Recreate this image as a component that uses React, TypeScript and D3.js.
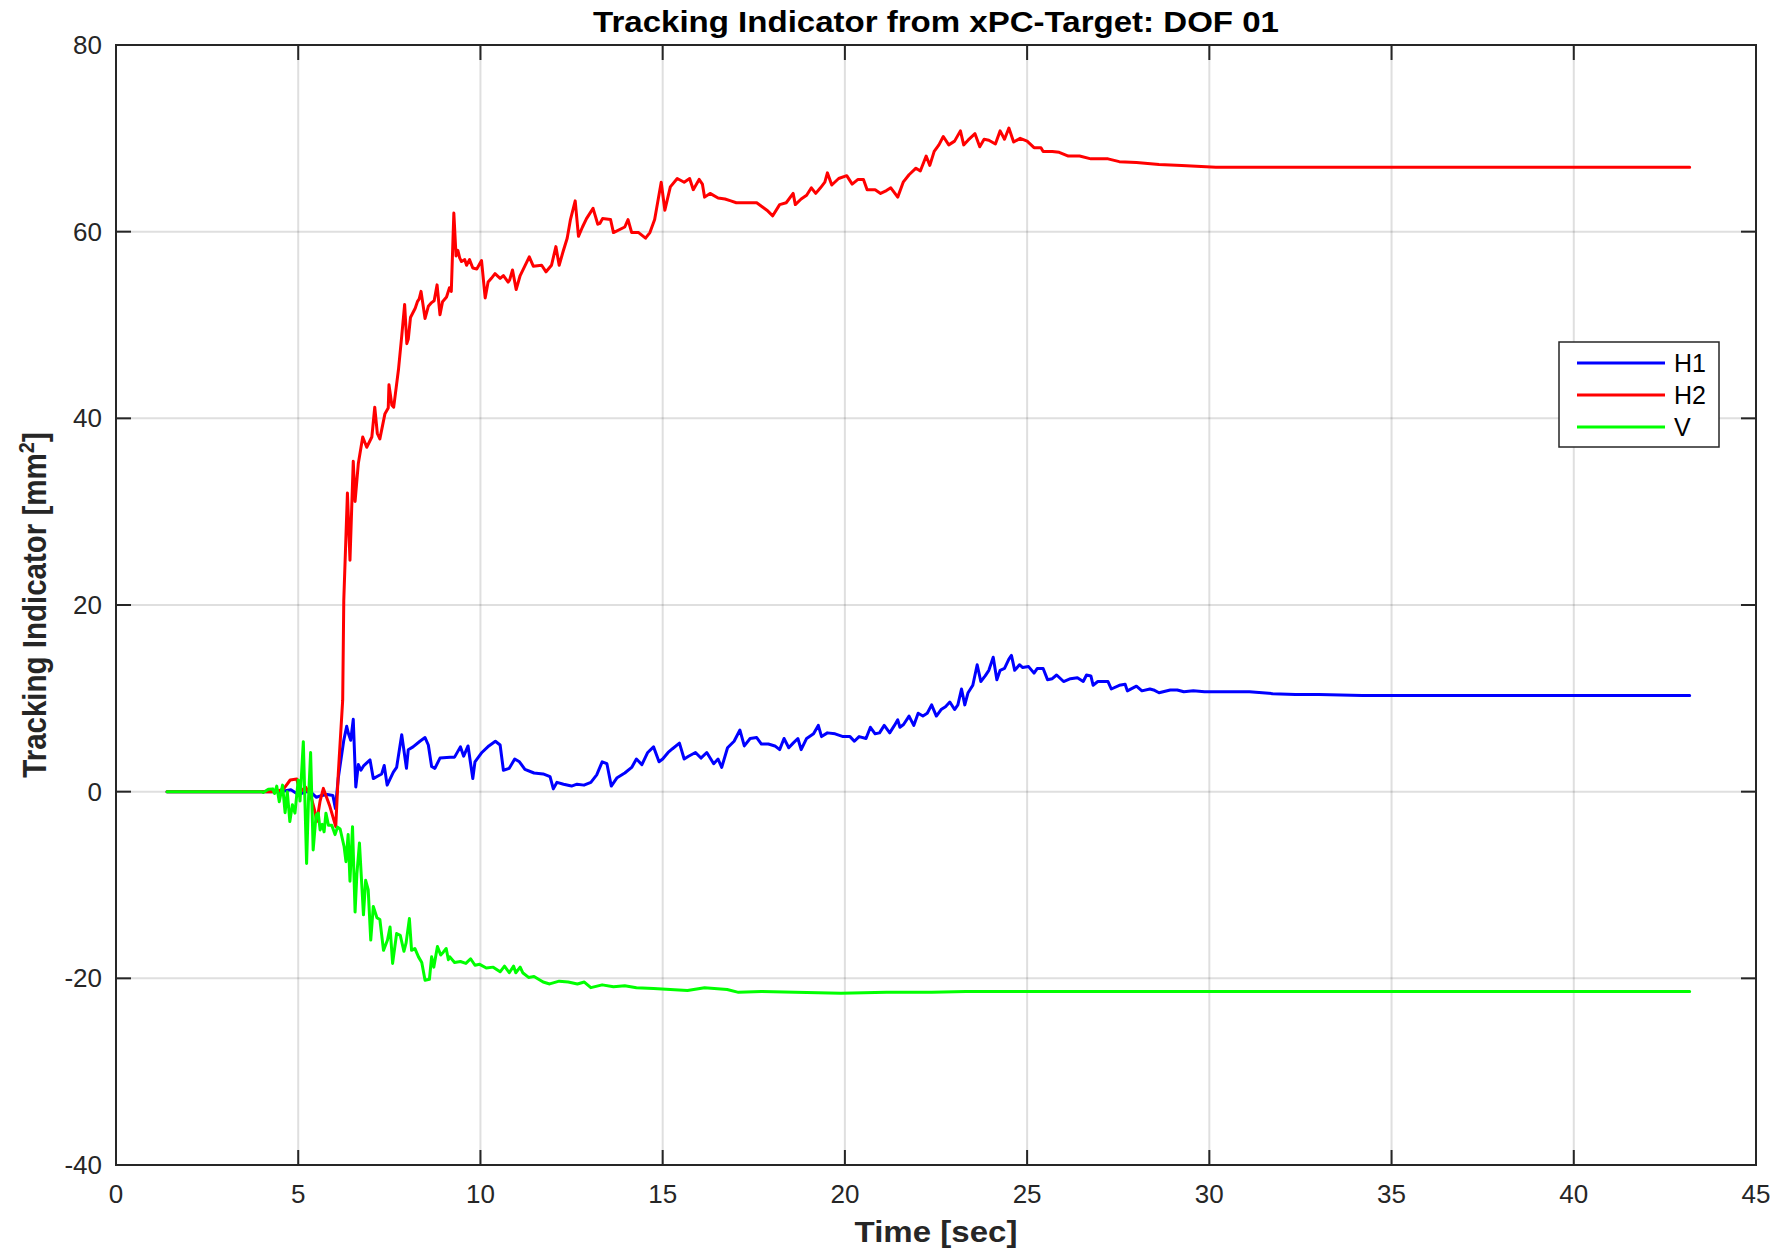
import React from 'react';
import * as d3 from 'd3';

const TITLE = 'Tracking Indicator from xPC-Target: DOF 01';
const X_LABEL = 'Time [sec]';
const X_TICKS = [0, 5, 10, 15, 20, 25, 30, 35, 40, 45];
const Y_TICKS = [-40, -20, 0, 20, 40, 60, 80];
const SERIES_NAMES = ['H1', 'H2', 'V'];
const SERIES_COLORS = ['#0000ff', '#ff0000', '#00ff00'];

const H1: [number, number][] = [
  [1.4, 0], [4.5, 0], [4.8, 0.2], [5.0, -0.3], [5.3, 0.1], [5.5, -0.6], [5.65, -0.4], [5.8, -0.3], [5.95, -0.4], [6.02, -1.8],
  [6.1, 1.5], [6.25, 5.5], [6.33, 7.0], [6.38, 6.2], [6.44, 5.5], [6.51, 7.75], [6.58, 0.5], [6.65, 2.9], [6.72, 2.3], [6.8, 2.8],
  [6.97, 3.4], [7.06, 1.4], [7.2, 1.7], [7.29, 1.9], [7.36, 2.8], [7.44, 0.7], [7.61, 2.1], [7.7, 2.6], [7.84, 6.1], [7.97, 2.5],
  [8.02, 4.5], [8.15, 4.8], [8.34, 5.4], [8.48, 5.8], [8.57, 5.0], [8.66, 2.7], [8.75, 2.5], [8.89, 3.6], [9.17, 3.7],
  [9.29, 3.7], [9.45, 4.8], [9.54, 3.8], [9.66, 4.9], [9.79, 1.4], [9.85, 3.2], [10.04, 4.2], [10.23, 4.9], [10.41, 5.4], [10.54, 5.0],
  [10.63, 2.3], [10.79, 2.5], [10.94, 3.5], [11.07, 3.2], [11.22, 2.4], [11.47, 2.0], [11.72, 1.9], [11.91, 1.6], [12.0, 0.3], [12.1, 1.0],
  [12.28, 0.8], [12.5, 0.6], [12.65, 0.8], [12.84, 0.7], [13.03, 1.0], [13.19, 1.8], [13.34, 3.2], [13.47, 3.0], [13.59, 0.6], [13.75, 1.5],
  [13.96, 2.0], [14.15, 2.6], [14.28, 3.5], [14.43, 2.9], [14.59, 4.2], [14.75, 4.8], [14.9, 3.2], [15.0, 3.5], [15.15, 4.2], [15.27, 4.6],
  [15.46, 5.2], [15.59, 3.5], [15.71, 3.8], [15.9, 4.2], [16.05, 3.6], [16.21, 4.2], [16.4, 3.0], [16.52, 3.5], [16.62, 2.6], [16.78, 4.7],
  [16.96, 5.4], [17.12, 6.6], [17.24, 4.9], [17.4, 5.7], [17.58, 5.8], [17.71, 5.1], [17.9, 5.1], [18.08, 4.9], [18.21, 4.5], [18.33, 5.7],
  [18.46, 4.7], [18.58, 5.2], [18.71, 5.7], [18.8, 4.5], [18.95, 5.7], [19.14, 6.2], [19.27, 7.1], [19.36, 5.9], [19.52, 6.3], [19.73, 6.2],
  [19.95, 5.9], [20.14, 5.9], [20.26, 5.4], [20.39, 5.9], [20.58, 5.7], [20.7, 6.9], [20.83, 6.2], [20.95, 6.3], [21.08, 7.1], [21.23, 6.3],
  [21.36, 7.1], [21.45, 7.7], [21.51, 6.9], [21.61, 7.2], [21.76, 8.1], [21.89, 7.1], [22.01, 8.4], [22.14, 8.1], [22.26, 8.4], [22.38, 9.3],
  [22.51, 8.1], [22.64, 8.8], [22.76, 9.1], [22.88, 9.6], [23.01, 8.8], [23.1, 9.3], [23.2, 11.0], [23.29, 9.3], [23.38, 10.6], [23.51, 11.4],
  [23.63, 13.6], [23.73, 11.8], [23.85, 12.4], [23.95, 13.0], [24.07, 14.4], [24.17, 12.0], [24.26, 13.0], [24.38, 13.2], [24.5, 14.2], [24.57, 14.6],
  [24.66, 13.0], [24.79, 13.6], [24.88, 13.3], [25.04, 13.4], [25.19, 12.7], [25.28, 13.2], [25.44, 13.2], [25.56, 12.0], [25.69, 12.1], [25.81, 12.5],
  [26.0, 11.8], [26.19, 12.1], [26.38, 12.2], [26.54, 11.8], [26.63, 12.5], [26.75, 12.4], [26.81, 11.4], [26.94, 11.8], [27.22, 11.8], [27.31, 11.0],
  [27.53, 11.4], [27.69, 11.5], [27.75, 10.8], [28.0, 11.3], [28.15, 10.8], [28.37, 11.0], [28.47, 10.9], [28.62, 10.6], [28.93, 10.9], [29.12, 10.9],
  [29.3, 10.7], [29.56, 10.8], [29.87, 10.7], [30.33, 10.7], [31.1, 10.7], [31.74, 10.5], [32.36, 10.4], [33.0, 10.4], [34.2, 10.3], [43.18, 10.3],
];

const H2: [number, number][] = [
  [1.4, 0], [4.4, 0], [4.6, 0.3], [4.78, 1.25], [4.96, 1.35], [5.05, -0.05], [5.2, 0.5], [5.35, -0.5], [5.45, -2.0], [5.51, -3.2],
  [5.6, -1.0], [5.69, 0.35], [5.87, -1.6], [6.03, -3.75], [6.1, 2], [6.22, 9.8], [6.25, 20.5], [6.35, 32.0], [6.42, 24.8], [6.51, 35.4],
  [6.56, 31.1], [6.65, 35.2], [6.77, 38.0], [6.88, 36.9], [7.02, 38.0], [7.1, 41.2], [7.17, 38.4], [7.24, 37.8], [7.38, 40.5], [7.47, 41.1],
  [7.49, 43.6], [7.57, 41.4], [7.62, 41.2], [7.75, 45.2], [7.84, 48.8], [7.92, 52.2], [7.98, 48.0], [8.02, 48.5], [8.08, 50.8], [8.21, 51.8],
  [8.27, 52.5], [8.32, 52.8], [8.37, 53.6], [8.48, 50.7], [8.57, 52.0], [8.66, 52.4], [8.73, 52.6], [8.81, 54.3], [8.89, 51.1], [8.96, 52.5],
  [9.07, 53.0], [9.15, 54.0], [9.2, 53.6], [9.27, 62.0], [9.33, 57.4], [9.38, 58.0], [9.43, 57.2], [9.48, 56.8], [9.57, 57.0], [9.62, 56.4],
  [9.7, 57.0], [9.79, 56.1], [9.9, 56.0], [10.03, 56.9], [10.13, 52.9], [10.21, 54.6], [10.3, 55.0], [10.4, 55.5], [10.54, 55.0], [10.63, 55.3],
  [10.76, 54.6], [10.8, 54.8], [10.88, 55.9], [10.98, 53.8], [11.09, 55.3], [11.34, 57.3], [11.45, 56.3], [11.68, 56.4], [11.8, 55.7], [11.95, 56.4],
  [12.07, 58.4], [12.16, 56.4], [12.27, 57.9], [12.38, 59.3], [12.47, 61.3], [12.6, 63.3], [12.69, 59.5], [12.8, 60.5], [12.91, 61.4], [13.09, 62.5],
  [13.22, 60.8], [13.28, 60.9], [13.35, 61.4], [13.57, 61.3], [13.65, 59.9], [13.96, 60.5], [14.05, 61.3], [14.15, 59.9], [14.34, 59.9], [14.53, 59.3],
  [14.65, 59.9], [14.78, 61.3], [14.96, 65.3], [15.06, 62.3], [15.21, 64.8], [15.4, 65.7], [15.59, 65.3], [15.74, 65.7], [15.84, 64.5], [16.0, 65.6],
  [16.09, 65.1], [16.15, 63.7], [16.3, 64.1], [16.52, 63.6], [16.71, 63.5], [16.87, 63.3], [17.02, 63.1], [17.27, 63.1], [17.58, 63.1], [17.86, 62.3],
  [18.02, 61.7], [18.21, 62.9], [18.39, 63.1], [18.58, 64.1], [18.64, 62.9], [18.8, 63.5], [18.95, 63.9], [19.08, 64.7], [19.2, 64.1], [19.33, 64.7],
  [19.45, 65.3], [19.52, 66.3], [19.64, 65.0], [19.83, 65.7], [20.05, 66.0], [20.2, 65.1], [20.36, 65.6], [20.51, 65.6], [20.61, 64.5], [20.83, 64.5],
  [20.98, 64.1], [21.14, 64.4], [21.26, 64.7], [21.45, 63.7], [21.6, 65.3], [21.76, 66.1], [21.95, 66.8], [22.07, 66.5], [22.23, 68.1], [22.33, 67.1],
  [22.45, 68.6], [22.58, 69.3], [22.7, 70.2], [22.85, 69.3], [23.01, 69.7], [23.17, 70.8], [23.26, 69.3], [23.38, 69.8], [23.57, 70.5], [23.7, 69.1],
  [23.82, 69.9], [23.95, 69.8], [24.13, 69.4], [24.26, 70.8], [24.38, 69.9], [24.5, 71.1], [24.63, 69.6], [24.81, 70.0], [25.0, 69.7], [25.19, 69.0],
  [25.38, 69.0], [25.44, 68.6], [25.69, 68.6], [25.88, 68.5], [26.13, 68.1], [26.44, 68.1], [26.75, 67.8], [27.22, 67.8], [27.53, 67.5], [28.0, 67.4],
  [28.62, 67.2], [29.24, 67.1], [30.18, 66.9], [43.18, 66.9],
];

const V: [number, number][] = [
  [1.4, 0], [4.0, 0], [4.04, -0.1], [4.18, 0.25], [4.3, 0.3], [4.35, -0.2], [4.41, 0.6], [4.48, -1.07], [4.57, 0.7], [4.64, -2.25],
  [4.7, 0.0], [4.77, -3.2], [4.84, -1.4], [4.91, -2.3], [5.0, 1.25], [5.05, -1.0], [5.14, 5.36], [5.23, -7.7], [5.28, -1.0], [5.34, 4.2],
  [5.41, -6.25], [5.49, -2.5], [5.55, -2.3], [5.6, -4.1], [5.66, -3.5], [5.71, -4.3], [5.76, -2.3], [5.83, -3.6], [5.92, -3.6], [6.01, -4.6],
  [6.08, -3.8], [6.15, -4.0], [6.26, -5.9], [6.31, -7.5], [6.37, -4.6], [6.42, -9.6], [6.49, -3.75], [6.56, -12.9], [6.61, -8.8], [6.68, -5.5],
  [6.79, -13.2], [6.85, -9.5], [6.92, -10.5], [6.99, -15.9], [7.06, -12.3], [7.16, -13.5], [7.24, -13.7], [7.34, -17.0], [7.45, -15.9], [7.52, -14.5],
  [7.59, -18.4], [7.7, -15.2], [7.8, -15.4], [7.9, -17.1], [7.96, -16.2], [8.05, -13.6], [8.11, -17.0], [8.2, -16.8], [8.3, -17.7], [8.39, -18.3],
  [8.48, -20.2], [8.6, -20.1], [8.66, -17.7], [8.72, -18.8], [8.82, -16.6], [8.91, -17.5], [8.98, -17.2], [9.06, -16.8], [9.12, -18.0], [9.16, -17.7],
  [9.29, -18.3], [9.45, -18.2], [9.6, -18.4], [9.73, -17.9], [9.85, -18.6], [9.98, -18.5], [10.16, -18.9], [10.35, -18.8], [10.54, -19.3], [10.66, -18.7],
  [10.79, -19.4], [10.91, -18.7], [10.97, -19.4], [11.09, -18.8], [11.16, -19.4], [11.32, -19.9], [11.47, -19.8], [11.72, -20.4], [11.9, -20.6], [12.16, -20.3],
  [12.41, -20.4], [12.66, -20.6], [12.85, -20.4], [13.03, -21.0], [13.34, -20.7], [13.65, -20.9], [13.96, -20.8], [14.28, -21.0], [14.75, -21.1], [15.21, -21.2],
  [15.68, -21.3], [16.15, -21.0], [16.77, -21.2], [17.08, -21.5], [17.71, -21.4], [18.64, -21.5], [19.89, -21.6], [21.14, -21.5], [22.38, -21.5], [23.32, -21.4],
  [24.88, -21.4], [43.18, -21.4],
];

const SERIES = [H1, H2, V];

const W = 1782;
const H = 1251;
const M = { left: 116, right: 1756, top: 45, bottom: 1165 };
const FONT = '"Liberation Sans", Arial, Helvetica, sans-serif';
const TEXT_COLOR = '#262626';
const STRETCH = 1.12;

export default function App() {
  const x = d3.scaleLinear().domain([0, 45]).range([M.left, M.right]);
  const y = d3.scaleLinear().domain([-40, 80]).range([M.bottom, M.top]);
  const line = d3.line<[number, number]>().x((d) => x(d[0])).y((d) => y(d[1]));
  const tickLen = 15;
  const cx = (M.left + M.right) / 2;
  const cy = (M.top + M.bottom) / 2;

  const legend = { x0: 1559, y0: 342, w: 160, h: 105, rowY: [363, 395, 427] };

  return (
    <svg width={W} height={H} style={{ position: 'absolute', left: 0, top: 0, display: 'block', background: '#fff' }} fontFamily={FONT}>
      <rect x={0} y={0} width={W} height={H} fill="#ffffff" />
      <rect x={M.left} y={M.top} width={M.right - M.left} height={M.bottom - M.top} fill="#ffffff" />
      {/* grid */}
      <g stroke="#262626" strokeOpacity={0.15} strokeWidth={2}>
        {X_TICKS.slice(1, -1).map((t) => (
          <line key={'gx' + t} x1={x(t)} x2={x(t)} y1={M.top} y2={M.bottom} />
        ))}
        {Y_TICKS.slice(1, -1).map((t) => (
          <line key={'gy' + t} x1={M.left} x2={M.right} y1={y(t)} y2={y(t)} />
        ))}
      </g>
      {/* data */}
      <g fill="none" strokeWidth={3} strokeLinejoin="round" strokeLinecap="round">
        {SERIES.map((s, i) => (
          <path key={SERIES_NAMES[i]} d={line(s) || ''} stroke={SERIES_COLORS[i]} />
        ))}
      </g>
      {/* box & ticks */}
      <g stroke={TEXT_COLOR} strokeWidth={2}>
        <rect x={M.left} y={M.top} width={M.right - M.left} height={M.bottom - M.top} fill="none" />
        {X_TICKS.map((t) => (
          <g key={'tx' + t}>
            <line x1={x(t)} x2={x(t)} y1={M.bottom} y2={M.bottom - tickLen} />
            <line x1={x(t)} x2={x(t)} y1={M.top} y2={M.top + tickLen} />
          </g>
        ))}
        {Y_TICKS.map((t) => (
          <g key={'ty' + t}>
            <line x1={M.left} x2={M.left + tickLen} y1={y(t)} y2={y(t)} />
            <line x1={M.right} x2={M.right - tickLen} y1={y(t)} y2={y(t)} />
          </g>
        ))}
      </g>
      {/* tick labels */}
      <g fill={TEXT_COLOR} fontSize={26}>
        {X_TICKS.map((t) => (
          <text key={'lx' + t} x={x(t)} y={1203} textAnchor="middle">
            {t}
          </text>
        ))}
        {Y_TICKS.map((t) => (
          <text key={'ly' + t} x={102} y={y(t)} textAnchor="end" dominantBaseline="central">
            {t}
          </text>
        ))}
      </g>
      {/* labels */}
      <text
        transform={`translate(${cx}, 32) scale(${STRETCH}, 1)`}
        textAnchor="middle"
        fontSize={29.5}
        fontWeight="bold"
        fill="#000"
      >
        {TITLE}
      </text>
      <text
        transform={`translate(${cx}, 1242) scale(${STRETCH}, 1)`}
        textAnchor="middle"
        fontSize={29.5}
        fontWeight="bold"
        fill={TEXT_COLOR}
      >
        {X_LABEL}
      </text>
      <text
        transform={`translate(46, ${cy}) scale(${STRETCH}, 1) rotate(-90)`}
        textAnchor="middle"
        fontSize={29.5}
        fontWeight="bold"
        fill={TEXT_COLOR}
      >
        Tracking Indicator [mm
        <tspan fontSize={20} dy={-11}>2</tspan>
        <tspan dy={11}>]</tspan>
      </text>
      {/* legend */}
      <g>
        <rect x={legend.x0} y={legend.y0} width={legend.w} height={legend.h} fill="#fff" stroke={TEXT_COLOR} strokeWidth={1.5} />
        {SERIES_NAMES.map((n, i) => (
          <g key={'lg' + n}>
            <line x1={1577} x2={1665} y1={legend.rowY[i]} y2={legend.rowY[i]} stroke={SERIES_COLORS[i]} strokeWidth={3} />
            <text x={1674} y={legend.rowY[i] + 9} fontSize={25} fill="#000">
              {n}
            </text>
          </g>
        ))}
      </g>
    </svg>
  );
}
